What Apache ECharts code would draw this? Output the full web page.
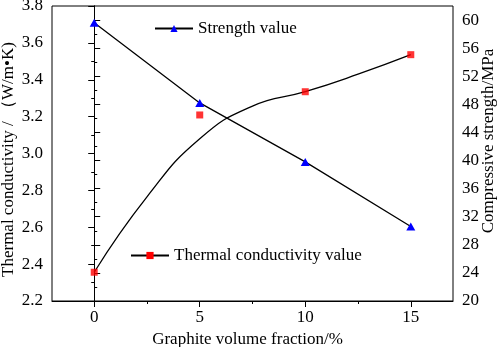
<!DOCTYPE html>
<html>
<head>
<meta charset="utf-8">
<script src="https://cdn.jsdelivr.net/npm/echarts@6/dist/echarts.min.js"></script>
<style>
  html, body { margin: 0; padding: 0; background: #fff; }
  #main { width: 498px; height: 347px; }
</style>
</head>
<body>
<div id="main"></div>
<script>
const xValues = [0, 5, 10, 15];
const strengthValues = [59.6, 48.2, 39.8, 30.6];
const conductivityValues = [2.356, 3.209, 3.335, 3.536];
// fitted curve drawn through the conductivity data
const fitX = [0, 2.5, 5, 7.5, 10, 12.5, 15];
const fitValues = [2.356, 2.765, 3.08, 3.257, 3.335, 3.43, 3.536];
const xTickLabels = [0, 5, 10, 15];
const xMinorTicks = [2.5, 7.5, 12.5];
const rightTickLabels = [20, 24, 28, 32, 36, 40, 44, 48, 52, 56, 60];

const font = "Liberation Serif";

function pairs(xs, ys) {
  return xs.map((x, i) => [x, ys[i]]);
}

function chartOption() {
  const textStyle = { fontFamily: font, fontSize: 17, color: "#000" };
  return {
    animation: false,
    textStyle: textStyle,
    grid: {
      left: 52,
      top: 6,
      right: 45,
      bottom: 46,
      show: true,
      borderColor: "#000",
      borderWidth: 1,
      outerBoundsMode: "none",
    },
    legend: [
      {
        data: ["Strength value"],
        left: 149,
        top: 15,
        itemWidth: 38,
        itemHeight: 9,
        textStyle: textStyle,
      },
      {
        data: ["Thermal conductivity value"],
        left: 125,
        top: 242,
        itemWidth: 38,
        itemHeight: 9,
        textStyle: textStyle,
      },
    ],
    xAxis: [
      {
        type: "value",
        min: -2,
        max: 17,
        name: "Graphite volume fraction/%",
        nameLocation: "middle",
        nameGap: 30,
        nameTextStyle: { ...textStyle, padding: [0, 10, 0, 0] },
        axisLine: { lineStyle: { color: "#000", width: 1 } },
        axisTick: { customValues: xTickLabels, length: 6, lineStyle: { color: "#000" } },
        axisLabel: { customValues: xTickLabels, margin: 8, ...textStyle },
        splitLine: { show: false },
      },
      {
        type: "value",
        min: -2,
        max: 17,
        position: "bottom",
        axisLine: { show: false },
        axisTick: { customValues: xMinorTicks, length: 3, lineStyle: { color: "#000" } },
        axisLabel: { show: false },
        splitLine: { show: false },
      },
    ],
    yAxis: [
      {
        type: "value",
        min: 2.2,
        max: 3.8,
        interval: 0.2,
        name: "Thermal conductivity / （W/m•K)",
        nameLocation: "middle",
        nameGap: 35,
        nameMoveOverlap: false,
        nameTextStyle: { ...textStyle, padding: [0, 12, 0, 0] },
        axisLine: { show: true, lineStyle: { color: "#000", width: 1 } },
        axisTick: { length: 6, lineStyle: { color: "#000" } },
        minorTick: { show: true, splitNumber: 2, length: 3, lineStyle: { color: "#000" } },
        axisLabel: { margin: 9, ...textStyle, formatter: (v) => v.toFixed(1) },
        splitLine: { show: false },
      },
      {
        type: "value",
        position: "right",
        min: 20,
        max: 62,
        interval: 4,
        name: "Compressive strength/MPa",
        nameLocation: "middle",
        nameGap: 27,
        nameMoveOverlap: false,
        nameTextStyle: { ...textStyle, padding: [0, 0, 0, 25] },
        axisLine: { show: true, lineStyle: { color: "#000", width: 1 } },
        axisTick: { customValues: rightTickLabels, length: 6, lineStyle: { color: "#000" } },
        minorTick: { show: true, splitNumber: 2, length: 3, lineStyle: { color: "#000" } },
        axisLabel: { customValues: rightTickLabels, margin: 9, ...textStyle },
        splitLine: { show: false },
      },
    ],
    series: [
      {
        name: "Strength value",
        type: "line",
        yAxisIndex: 1,
        data: pairs(xValues, strengthValues),
        symbol: "triangle",
        symbolSize: [9, 8],
        itemStyle: { color: "#0000ff" },
        lineStyle: { color: "#000", width: 1.3 },
        z: 3,
      },
      {
        name: "Thermal conductivity value",
        type: "line",
        yAxisIndex: 0,
        data: pairs(fitX, fitValues).map((p) => ({ value: p, symbol: "none" })),
        symbol: "rect",
        symbolSize: 7,
        smooth: 0.5,
        itemStyle: { color: "#ff0000" },
        lineStyle: { color: "#000", width: 1.3 },
        z: 2,
      },
      {
        name: "conductivity points",
        type: "scatter",
        yAxisIndex: 0,
        data: pairs(xValues, conductivityValues),
        symbol: "rect",
        symbolSize: 7,
        itemStyle: { color: "#ff0000" },
        z: 4,
      },
    ],
  };
}

function onLoad() {
  const chart = echarts.init(document.getElementById("main"), null, { renderer: "canvas" });
  chart.setOption(chartOption());
}

addEventListener("load", onLoad);
</script>
</body>
</html>
